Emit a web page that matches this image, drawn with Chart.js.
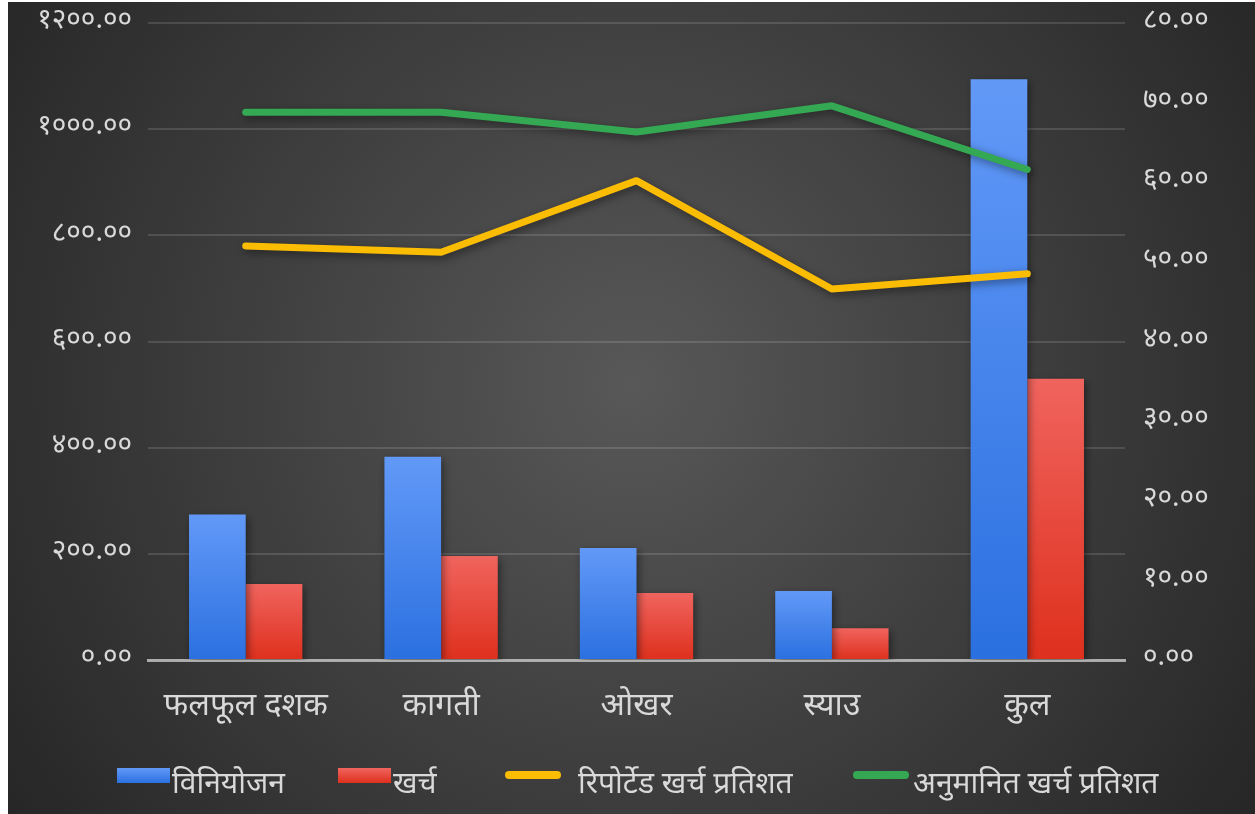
<!DOCTYPE html>
<html>
<head>
<meta charset="utf-8">
<script src="https://cdn.jsdelivr.net/npm/chart.js@4.4.0/dist/chart.umd.min.js"></script>
<style>
  body { margin: 0; background: #fff; width: 1255px; height: 814px; overflow: hidden; }
  #wrap { position: absolute; left: 8px; top: 2px; width: 1247px; height: 812px; }
  #legend { position: absolute; left: 0; top: 0; width: 1255px; height: 814px; pointer-events: none; }
  .lg { position: absolute; font-family: 'Noto Sans Devanagari', 'Lohit Devanagari', 'Noto Sans', sans-serif; font-size: 30px; color: #d9d9d9; line-height: 34px; }
  .sw { position: absolute; }
</style>
</head>
<body>
<div id="wrap"><canvas id="chart"></canvas></div>
<div id="legend"></div>
<script>
// Data
const categories = ['फलफूल दशक', 'कागती', 'ओखर', 'स्याउ', 'कुल'];
const allocation = [274, 383, 211, 130, 1094];      // विनियोजन
const expense = [143, 196, 126, 60, 530];           // खर्च
const reportedPct = [52.0, 51.2, 60.2, 46.6, 48.5]; // रिपोर्टेड खर्च प्रतिशत
const estimatedPct = [68.8, 68.8, 66.3, 69.6, 61.6]; // अनुमानित खर्च प्रतिशत
const seriesNames = ['विनियोजन', 'खर्च', 'रिपोर्टेड खर्च प्रतिशत', 'अनुमानित खर्च प्रतिशत'];

const devFont = "'Noto Sans Devanagari', 'Lohit Devanagari', 'Noto Sans', sans-serif";
const toDev = s => String(s).replace(/\d/g, d => '०१२३४५६७८९'[d]);

// gradient from the top of each bar down to the axis
function barGradient(ctx, top, bottom) {
  const chart = ctx.chart;
  const area = chart.chartArea;
  if (!area || ctx.raw == null) return top;
  const yTop = chart.scales.y.getPixelForValue(ctx.raw);
  const g = chart.ctx.createLinearGradient(0, yTop, 0, area.bottom);
  g.addColorStop(0, top);
  g.addColorStop(1, bottom);
  return g;
}

// background + shadows
const bgPlugin = {
  id: 'bg',
  beforeDraw(chart) {
    const { ctx, width, height } = chart;
    const g = ctx.createRadialGradient(width * 0.5, height * 0.47, 0, width * 0.5, height * 0.47, 760);
    g.addColorStop(0, '#585858');
    g.addColorStop(1, '#262626');
    ctx.save();
    ctx.fillStyle = g;
    ctx.fillRect(0, 0, width, height);
    ctx.restore();
  },
  beforeDatasetDraw(chart) {
    const ctx = chart.ctx;
    ctx.save();
    ctx.shadowColor = 'rgba(0,0,0,0.45)';
    ctx.shadowBlur = 8;
    ctx.shadowOffsetX = 2;
    ctx.shadowOffsetY = 3;
  },
  afterDatasetDraw(chart) {
    chart.ctx.restore();
  }
};

const fitVertical = w => scale => {
  scale.width = w;
  scale.paddingTop = 21;
  scale.paddingBottom = 0;
};

new Chart(document.getElementById('chart'), {
  type: 'bar',
  data: {
    labels: categories,
    datasets: [
      {
        type: 'line', label: seriesNames[3], data: estimatedPct, yAxisID: 'y1', order: 0,
        borderColor: '#34a853', borderWidth: 7, pointRadius: 0, borderCapStyle: 'round', borderJoinStyle: 'round', tension: 0
      },
      {
        type: 'line', label: seriesNames[2], data: reportedPct, yAxisID: 'y1', order: 0,
        borderColor: '#fbbc04', borderWidth: 7, pointRadius: 0, borderCapStyle: 'round', borderJoinStyle: 'round', tension: 0
      },
      {
        label: seriesNames[0], data: allocation, yAxisID: 'y', order: 1,
        backgroundColor: ctx => barGradient(ctx, '#6299f7', '#2b70e0'),
        barPercentage: 1, categoryPercentage: 0.58
      },
      {
        label: seriesNames[1], data: expense, yAxisID: 'y', order: 1,
        backgroundColor: ctx => barGradient(ctx, '#f0645e', '#de301d'),
        barPercentage: 1, categoryPercentage: 0.58
      }
    ]
  },
  options: {
    responsive: true,
    maintainAspectRatio: false,
    animation: false,
    layout: { padding: 0 },
    plugins: { legend: { display: false }, tooltip: { enabled: false } },
    scales: {
      x: {
        z: 1,
        grid: { display: false, drawTicks: false },
        border: { display: true, color: 'rgba(190,190,190,0.85)', width: 3 },
        ticks: { color: '#d9d9d9', font: { family: devFont, size: 32 }, padding: 30 },
        afterFit(scale) { scale.height = 154; }
      },
      y: {
        position: 'left', min: 0, max: 1200,
        grid: { color: 'rgba(255,255,255,0.13)', lineWidth: 2, drawTicks: false },
        border: { display: false },
        ticks: { stepSize: 200, color: '#d9d9d9', font: { family: devFont, size: 28 }, padding: 16,
          callback: v => toDev(v.toFixed(2)) },
        afterFit: fitVertical(140)
      },
      y1: {
        position: 'right', min: 0, max: 80,
        grid: { display: false, drawTicks: false },
        border: { display: false },
        ticks: { stepSize: 10, color: '#d9d9d9', font: { family: devFont, size: 28 }, padding: 18,
          callback: v => toDev(v.toFixed(2)) },
        afterFit: fitVertical(130)
      }
    }
  },
  plugins: [bgPlugin]
});

// legend
const legendItems = [
  { name: seriesNames[0], kind: 'box', colors: ['#6299f7', '#2b70e0'], sx: 117, tx: 172 },
  { name: seriesNames[1], kind: 'box', colors: ['#f0645e', '#de301d'], sx: 338, tx: 393 },
  { name: seriesNames[2], kind: 'line', colors: ['#fbbc04'], sx: 505, tx: 578 },
  { name: seriesNames[3], kind: 'line', colors: ['#34a853'], sx: 853, tx: 913 }
];
const legend = document.getElementById('legend');
legendItems.forEach(it => {
  const sw = document.createElement('div');
  sw.className = 'sw';
  if (it.kind === 'box') {
    sw.style.cssText = `left:${it.sx}px;top:768px;width:53px;height:15px;background:linear-gradient(${it.colors[0]},${it.colors[1]});`;
  } else {
    sw.style.cssText = `left:${it.sx}px;top:771px;width:56px;height:8px;border-radius:4px;background:${it.colors[0]};`;
  }
  legend.appendChild(sw);
  const t = document.createElement('div');
  t.className = 'lg';
  t.style.left = it.tx + 'px';
  t.style.top = '769px';
  t.textContent = it.name;
  legend.appendChild(t);
});
</script>
</body>
</html>
